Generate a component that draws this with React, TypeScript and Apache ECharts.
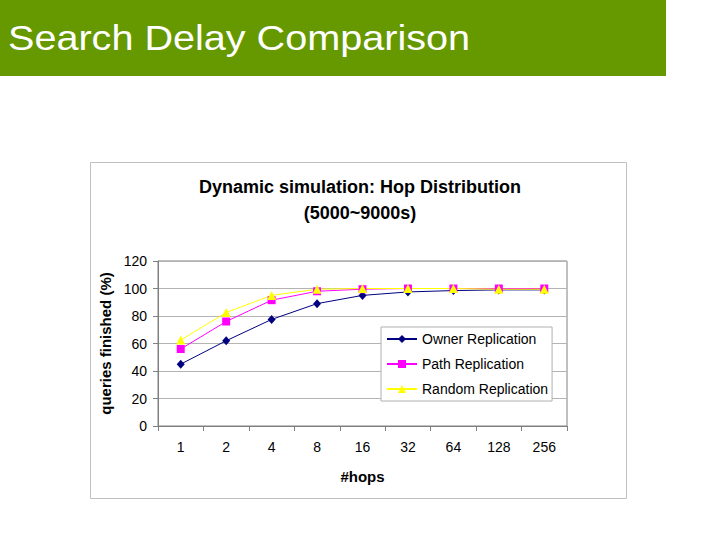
import React, { useEffect, useRef } from "react";
import * as echarts from "echarts";

const hops = ["1", "2", "4", "8", "16", "32", "64", "128", "256"];
const ownerReplication = [45, 62, 77.5, 89, 95, 97.5, 98.5, 99, 99];
const pathReplication = [56, 76, 91.5, 98, 99.5, 100, 100, 100, 100];
const randomReplication = [62.5, 82.5, 95, 99.5, 100, 100, 100, 99.5, 99.5];
const yTicks = { min: 0, max: 120, interval: 20 };

const FONT = "'Liberation Sans', Arial, sans-serif";

export default function App() {
  const ref = useRef<HTMLDivElement>(null);
  useEffect(() => {
    if (!ref.current) return;
    const chart = echarts.init(ref.current, null, { renderer: "svg" });
    chart.setOption({
      animation: false,
      backgroundColor: "#ffffff",
      textStyle: { fontFamily: FONT },
      graphic: [
        {
          type: "rect",
          z: -10,
          shape: { x: 0, y: 0, width: 666, height: 76 },
          style: { fill: "#669900" },
        },
        {
          type: "text",
          x: 8,
          y: 38,
          scaleX: 1.1,
          style: {
            text: "Search Delay Comparison",
            x: 0,
            y: 0,
            fill: "#ffffff",
            font: `36px ${FONT}`,
            verticalAlign: "middle",
          },
        },
        {
          type: "rect",
          z: -10,
          shape: { x: 90.5, y: 162.5, width: 536, height: 336 },
          style: { fill: "#ffffff", stroke: "#c0c0c0", lineWidth: 1 },
        },
      ],
      title: {
        text: "Dynamic simulation: Hop Distribution\n(5000~9000s)",
        left: "center",
        top: 174,
        padding: 0,
        textStyle: {
          fontFamily: FONT,
          fontSize: 18,
          fontWeight: "bold",
          color: "#000",
          lineHeight: 26,
        },
      },
      legend: {
        orient: "vertical",
        left: 381,
        top: 327,
        padding: [5, 4, 5, 5],
        itemWidth: 30,
        itemHeight: 10,
        itemGap: 11,
        backgroundColor: "#ffffff",
        borderColor: "#b0b0b0",
        borderWidth: 1,
        textStyle: { fontFamily: FONT, fontSize: 14, color: "#000" },
        data: ["Owner Replication", "Path Replication", "Random Replication"],
      },
      grid: {
        left: 158,
        top: 261,
        width: 409,
        height: 165,
        show: true,
        backgroundColor: "#ffffff",
        borderColor: "#808080",
        borderWidth: 1,
      },
      xAxis: {
        type: "category",
        data: hops,
        boundaryGap: true,
        axisLine: { lineStyle: { color: "#808080" } },
        axisTick: { show: true, length: 5, lineStyle: { color: "#808080" } },
        axisLabel: { fontFamily: FONT, fontSize: 14, color: "#000", margin: 14 },
        name: "#hops",
        nameLocation: "middle",
        nameGap: 43,
        nameTextStyle: { fontFamily: FONT, fontSize: 15, fontWeight: "bold", color: "#000" },
      },
      yAxis: {
        type: "value",
        min: yTicks.min,
        max: yTicks.max,
        interval: yTicks.interval,
        axisLine: { show: true, lineStyle: { color: "#808080" } },
        axisTick: { show: true, length: 5, lineStyle: { color: "#808080" } },
        splitLine: { show: true, lineStyle: { color: "#b4b4b4" } },
        axisLabel: { fontFamily: FONT, fontSize: 14, color: "#000", margin: 11 },
        name: "queries finished (%)",
        nameLocation: "middle",
        nameGap: 37,
        nameTextStyle: { fontFamily: FONT, fontSize: 15, fontWeight: "bold", color: "#000" },
      },
      series: [
        {
          name: "Owner Replication",
          type: "line",
          data: ownerReplication,
          symbol: "diamond",
          symbolSize: [8, 9],
          lineStyle: { color: "#000080", width: 1 },
          itemStyle: { color: "#000080" },
        },
        {
          name: "Path Replication",
          type: "line",
          data: pathReplication,
          symbol: "rect",
          symbolSize: 8,
          lineStyle: { color: "#ff00ff", width: 1 },
          itemStyle: { color: "#ff00ff" },
        },
        {
          name: "Random Replication",
          type: "line",
          data: randomReplication,
          symbol: "triangle",
          symbolSize: 9,
          lineStyle: { color: "#ffff00", width: 1 },
          itemStyle: { color: "#ffff00" },
        },
      ],
    });
    return () => chart.dispose();
  }, []);
  return (
    <div
      ref={ref}
      style={{ position: "absolute", left: 0, top: 0, width: 720, height: 540 }}
    />
  );
}
